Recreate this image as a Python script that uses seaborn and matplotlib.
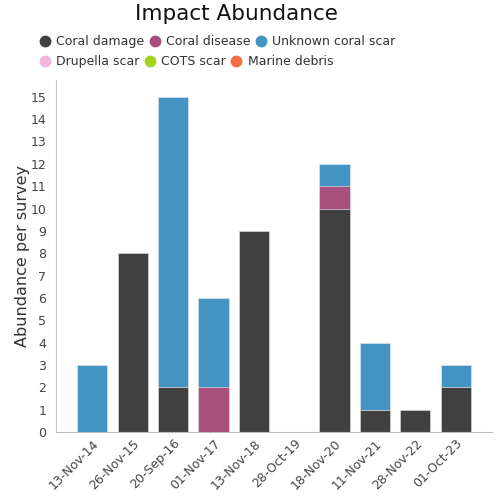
import numpy as np
import matplotlib
matplotlib.use("Agg")
import matplotlib.pyplot as plt
from matplotlib.lines import Line2D
import seaborn as sns

# survey dates
dates = ["13-Nov-14", "26-Nov-15", "20-Sep-16", "01-Nov-17", "13-Nov-18",
         "28-Oct-19", "18-Nov-20", "11-Nov-21", "28-Nov-22", "01-Oct-23"]

# abundance per survey by impact type
coral_damage = [0, 8, 2, 0, 9, 0, 10, 1, 1, 2]
coral_disease = [0, 0, 0, 2, 0, 0, 1, 0, 0, 0]
unknown_scar = [3, 0, 13, 4, 0, 0, 1, 3, 0, 1]
drupella_scar = [0, 0, 0, 0, 0, 0, 0, 0, 0, 0]
cots_scar = [0, 0, 0, 0, 0, 0, 0, 0, 0, 0]
marine_debris = [0, 0, 0, 0, 0, 0, 0, 0, 0, 0]

series = [
    ("Coral damage", coral_damage, "#404040"),
    ("Coral disease", coral_disease, "#a84f7c"),
    ("Unknown coral scar", unknown_scar, "#4393c3"),
    ("Drupella scar", drupella_scar, "#f1b6da"),
    ("COTS scar", cots_scar, "#a6d41e"),
    ("Marine debris", marine_debris, "#f46d43"),
]

sns.set_style("white")
plt.rcParams["font.family"] = ["DejaVu Sans"]

fig = plt.figure(figsize=(5, 5), dpi=100)
ax = fig.add_axes([0.112, 0.136, 0.872, 0.704])

# stacked bars: draw cumulative totals from the top layer down
cum = np.cumsum([np.array(s[1]) for s in series], axis=0)
for i in range(len(series) - 1, -1, -1):
    sns.barplot(x=dates, y=cum[i], color=series[i][2], width=0.75,
                errorbar=None, saturation=1, edgecolor="#f4f4f4",
                linewidth=0.4, ax=ax)

ax.set_xlim(-0.9, 9.9)
ax.set_ylim(0, 15.75)
ax.set_yticks(range(0, 16))
ax.tick_params(axis="both", length=0, labelsize=9, labelcolor="#444444")
ax.tick_params(axis="y", pad=7)
plt.setp(ax.get_xticklabels(), rotation=45, ha="right", rotation_mode="anchor")
ax.set_ylabel("Abundance per survey", fontsize=11.5, color="#333333",
              labelpad=0)
ax.set_xlabel("")

for side in ["top", "right"]:
    ax.spines[side].set_visible(False)
ax.spines["left"].set_color("#cccccc")
ax.spines["bottom"].set_color("#bbbbbb")

fig.text(0.472, 0.973, "Impact Abundance", fontsize=15.5, color="#111111",
         ha="center", va="center")

def handles(items):
    return [Line2D([], [], marker="o", linestyle="", markersize=7.5,
                   markerfacecolor=c, markeredgecolor=c, label=n)
            for n, _, c in items]

leg_kw = dict(ncol=3, loc="upper left", frameon=False, fontsize=9,
              handletextpad=0.3, columnspacing=0.25, borderaxespad=0,
              handlelength=1.2)
leg1 = fig.legend(handles=handles(series[:3]),
                  bbox_to_anchor=(0.064, 0.94), **leg_kw)
leg2 = fig.legend(handles=handles(series[3:]),
                  bbox_to_anchor=(0.064, 0.90), **leg_kw)
for leg in (leg1, leg2):
    for t in leg.get_texts():
        t.set_color("#333333")

fig.savefig("out.png", dpi=100)
